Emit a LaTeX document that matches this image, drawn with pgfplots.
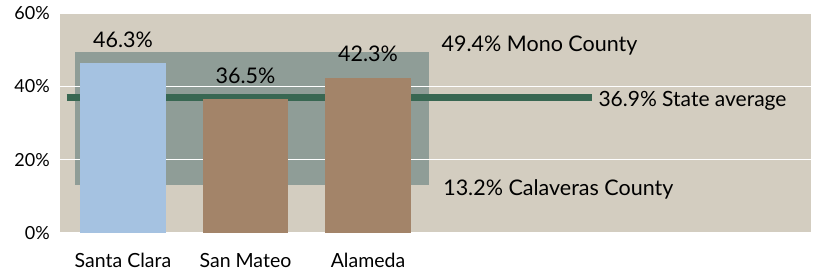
\documentclass[border=0pt]{standalone}
\usepackage{pgfplots}
\pgfplotsset{compat=1.18}
\usepackage{fontspec}
\setmainfont{Lato}
\usetikzlibrary{calc}
\definecolor{bgc}{RGB}{211,205,192}
\definecolor{bandc}{RGB}{143,157,151}
\definecolor{bluec}{RGB}{165,194,225}
\definecolor{brownc}{RGB}{163,132,105}
\definecolor{greenc}{RGB}{56,103,82}
\begin{document}
\begin{tikzpicture}
\begin{axis}[
  set layers,
  scale only axis, width=751pt, height=220pt,
  xmin=-0.514, xmax=5.616, ymin=0, ymax=60,
  axis background/.style={fill=bgc},
  axis line style={draw=none},
  ytick={0,20,40,60}, yticklabels={0\%,20\%,40\%,60\%},
  xtick={0,1,2}, xticklabels={Santa Clara,San Mateo,Alameda},
  major tick length=0pt,
  ymajorgrids, grid style={white, line width=1.2pt},
  /pgf/number format/assume math mode=true,
  yticklabel style={font=\fontsize{18}{20}\selectfont, anchor=east, inner sep=0pt, xshift=-10pt},
  xticklabel style={font=\fontsize{19.5}{22}\selectfont, anchor=base, inner sep=0pt, yshift=-35pt},
  every node near coord/.append style={anchor=base, inner sep=0pt, yshift=16pt, font=\fontsize{21.5}{24}\selectfont, text=black},
  clip=false,
]
% band between minimum and maximum county
\addplot[on layer=axis background, fill=bandc, draw=none] coordinates {(-0.393,13.2) (2.50,13.2) (2.50,49.4) (-0.393,49.4)} -- cycle;
% state average line
\addplot[draw=greenc, line width=7pt, line cap=butt] coordinates {(-0.459,36.9) (3.83,36.9)};
% bars
\addplot[ybar, bar width=0.70, fill=bluec, draw=none,
  nodes near coords={\pgfmathprintnumber[fixed,fixed zerofill,precision=1]{\pgfplotspointmeta}\%}]
  coordinates {(0,46.3)};
\addplot[ybar, bar width=0.70, fill=brownc, draw=none,
  nodes near coords={\pgfmathprintnumber[fixed,fixed zerofill,precision=1]{\pgfplotspointmeta}\%}]
  coordinates {(1,36.5)};
\addplot[ybar, bar width=0.70, fill=brownc, draw=none,
  nodes near coords={\pgfmathprintnumber[fixed,fixed zerofill,precision=1]{\pgfplotspointmeta}\%}]
  coordinates {(2,42.3)};
\node[anchor=base west, inner sep=0pt, font=\fontsize{21.5}{24}\selectfont] at (axis cs:2.60,49.4) {49.4\% Mono County};
\node[anchor=base west, inner sep=0pt, font=\fontsize{21}{24}\selectfont] at (axis cs:3.88,34.4) {36.9\% State average};
\node[anchor=base west, inner sep=0pt, font=\fontsize{21.5}{24}\selectfont] at (axis cs:2.613,10.3) {13.2\% Calaveras County};
\end{axis}
\pgfresetboundingbox
\path[use as bounding box] ($(current axis.south west)+(-60pt,-40pt)$) rectangle ($(current axis.north east)+(3pt,13pt)$);
\end{tikzpicture}
\end{document}
